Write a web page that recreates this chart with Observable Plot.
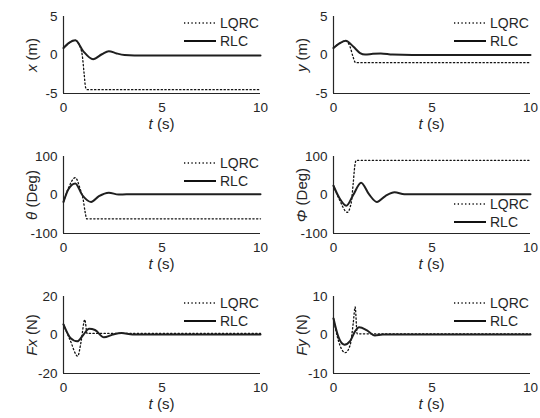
<!DOCTYPE html>
<html>
<head>
<meta charset="utf-8">
<script src="https://cdn.jsdelivr.net/npm/d3@7"></script>
<script src="https://cdn.jsdelivr.net/npm/@observablehq/plot@0.6"></script>
<style>
  html, body { margin: 0; padding: 0; background: #fff; }
  #chart { position: relative; width: 540px; height: 418px; font-family: "Liberation Sans", Arial, sans-serif; color: #262626; overflow: hidden; }
  .panel { position: absolute; }
  .xt { position: absolute; font-size: 15px; transform: translate(-50%, -50%); white-space: nowrap; }
  .yt { position: absolute; font-size: 15px; transform: translate(-50%, -50%) rotate(-90deg); white-space: nowrap; }
  .leg { position: absolute; font-size: 14px; white-space: nowrap; display: flex; align-items: center; }
  .leg svg { margin-right: 3px; }
</style>
</head>
<body>
<div id="chart"></div>
<script>
// ---- data ----
const xTicks = [0, 5, 10];
const seriesNames = ["LQRC", "RLC"];

// panel 1: x (m)
const xTicksY1 = [-5, 0, 5];
const tX_LQRC = [0, 0.3, 0.6, 0.8, 0.95, 1.05, 1.12, 1.2, 10];
const vX_LQRC = [0.9, 1.6, 1.9, 1.3, 0, -2.5, -4.2, -4.5, -4.5];
const tX_RLC = [0, 0.3, 0.6, 1.0, 1.5, 1.95, 2.3, 2.7, 3.1, 3.6, 10];
const vX_RLC = [0.9, 1.6, 1.9, 0.5, -0.55, 0.1, 0.5, 0.2, 0, -0.05, -0.05];

// panel 2: y (m)
const yTicksY2 = [-5, 0, 5];
const tY_LQRC = [0, 0.3, 0.62, 0.85, 1.0, 1.12, 10];
const vY_LQRC = [0.9, 1.5, 1.85, 1.0, -0.3, -1.0, -1.0];
const tY_RLC = [0, 0.3, 0.62, 1.0, 1.35, 1.6, 2.0, 2.4, 3.0, 4, 10];
const vY_RLC = [0.9, 1.5, 1.85, 1.1, 0.25, 0.05, 0.15, 0.2, 0.05, 0, 0];

// panel 3: theta (Deg)
const thTicks = [-100, 0, 100];
const tTh_LQRC = [0, 0.25, 0.6, 0.85, 1.0, 1.1, 1.18, 10];
const vTh_LQRC = [-18, 18, 45, 15, -12, -45, -62, -62];
const tTh_RLC = [0, 0.25, 0.6, 0.95, 1.4, 1.8, 2.3, 2.8, 3.2, 10];
const vTh_RLC = [-18, 15, 30, 0, -18, -3, 6, 1, 2, 2];

// panel 4: Phi (Deg)
const phTicks = [-100, 0, 100];
const tPh_LQRC = [0, 0.3, 0.7, 0.9, 1.0, 1.08, 1.15, 10];
const vPh_LQRC = [24, -12, -45, -20, 30, 75, 90, 90];
const tPh_RLC = [0, 0.3, 0.65, 1.0, 1.4, 1.8, 2.2, 2.65, 3.1, 3.6, 4.2, 10];
const vPh_RLC = [24, -8, -28, 0, 32, 2, -18, -2, 7, 2, 2, 2];

// panel 5: Fx (N)
const fxTicks = [-20, 0, 20];
const tFx_LQRC = [0, 0.35, 0.72, 0.9, 1.08, 1.2, 10];
const vFx_LQRC = [5.5, -3, -11, -3, 8, 0.8, 0.8];
const tFx_RLC = [0, 0.35, 0.7, 1.0, 1.3, 1.6, 2.05, 2.5, 2.95, 3.5, 10];
const vFx_RLC = [5.5, -1.5, -3.3, 0, 3.2, 2.6, -1.2, 0.2, 1.0, 0.3, 0.3];

// panel 6: Fy (N)
const fyTicks = [-10, 0, 10];
const tFy_LQRC = [0, 0.25, 0.6, 0.85, 1.0, 1.1, 1.2, 10];
const vFy_LQRC = [4.3, -1.5, -4.6, -2.5, 3, 7.3, 0.3, 0.3];
const tFy_RLC = [0, 0.25, 0.55, 0.85, 1.1, 1.3, 1.7, 2.1, 2.5, 10];
const vFy_RLC = [4.3, -0.5, -2.5, -1.5, 1.0, 2.0, 1.2, -0.1, 0.1, 0.1];

// ---- build ----
const zip = (t, v) => t.map((d, i) => ({t: d, v: v[i]}));

const panels = [
  {col: 0, row: 0, ticks: xTicksY1, lq: zip(tX_LQRC, vX_LQRC), rl: zip(tX_RLC, vX_RLC), ylab: "<i>x</i> (m)", legendLow: false},
  {col: 1, row: 0, ticks: yTicksY2, lq: zip(tY_LQRC, vY_LQRC), rl: zip(tY_RLC, vY_RLC), ylab: "<i>y</i> (m)", legendLow: false},
  {col: 0, row: 1, ticks: thTicks, lq: zip(tTh_LQRC, vTh_LQRC), rl: zip(tTh_RLC, vTh_RLC), ylab: "<i>θ</i> (Deg)", legendLow: false},
  {col: 1, row: 1, ticks: phTicks, lq: zip(tPh_LQRC, vPh_LQRC), rl: zip(tPh_RLC, vPh_RLC), ylab: "<i>Φ</i> (Deg)", legendLow: true},
  {col: 0, row: 2, ticks: fxTicks, lq: zip(tFx_LQRC, vFx_LQRC), rl: zip(tFx_RLC, vFx_RLC), ylab: "<i>Fx</i> (N)", legendLow: false},
  {col: 1, row: 2, ticks: fyTicks, lq: zip(tFy_LQRC, vFy_LQRC), rl: zip(tFy_RLC, vFy_RLC), ylab: "<i>Fy</i> (N)", legendLow: false}
];

const chart = document.getElementById("chart");
const W = 270, H = 140;
const mL = 63, mR = 10, mT = 16, mB = 47;
const ink = "#262626";
const fmt = d => String(d);

function legendItem(name, dashed) {
  const el = document.createElement("div");
  el.className = "leg";
  el.innerHTML = `<svg width="34" height="6"><line x1="1" y1="3" x2="33" y2="3" stroke="#111" stroke-width="${dashed ? 1.3 : 2}" ${dashed ? 'stroke-dasharray="1.3,2.4"' : ''}/></svg><span>${name}</span>`;
  return el;
}

for (const p of panels) {
  const dom = [p.ticks[0], p.ticks[2]];
  const svg = Plot.plot({
    width: W, height: H,
    marginLeft: mL, marginRight: mR, marginTop: mT, marginBottom: mB,
    x: {domain: [0, 10], ticks: xTicks, label: null},
    y: {domain: dom, ticks: p.ticks, label: null},
    style: {fontFamily: '"Liberation Sans", Arial, sans-serif', fontSize: "13.5px", color: ink, background: "transparent"},
    marks: [
      Plot.axisX({ticks: xTicks, tickSize: 0, tickPadding: 9, label: null, tickFormat: fmt}),
      Plot.axisY({ticks: p.ticks, tickSize: 0, tickPadding: 6, label: null, tickFormat: fmt}),
      Plot.ruleX([0], {stroke: ink, strokeWidth: 1.2}),
      Plot.ruleY([dom[0]], {stroke: ink, strokeWidth: 1.2}),
      Plot.line(p.lq, {x: "t", y: "v", stroke: "#111", strokeWidth: 1.3, strokeDasharray: "1.3,2.4", curve: "monotone-x"}),
      Plot.line(p.rl, {x: "t", y: "v", stroke: "#1f1f1f", strokeWidth: 2, curve: "monotone-x"})
    ]
  });
  const left = p.col * W, top = p.row * H;
  svg.classList.add("panel");
  svg.style.left = left + "px";
  svg.style.top = top + "px";
  chart.appendChild(svg);

  const xt = document.createElement("div");
  xt.className = "xt";
  xt.innerHTML = "<i>t</i> (s)";
  xt.style.left = (left + (mL + W - mR) / 2) + "px";
  xt.style.top = (top + 123) + "px";
  chart.appendChild(xt);

  const yt = document.createElement("div");
  yt.className = "yt";
  yt.innerHTML = p.ylab;
  yt.style.left = (left + 31) + "px";
  yt.style.top = (top + (mT + H - mB) / 2) + "px";
  chart.appendChild(yt);

  const ly = p.legendLow ? 65 : 24;
  seriesNames.forEach((name, i) => {
    const el = legendItem(name, i === 0);
    el.style.left = (left + 183) + "px";
    el.style.top = (top + ly + i * 18 - 9) + "px";
    chart.appendChild(el);
  });
}
</script>
</body>
</html>
